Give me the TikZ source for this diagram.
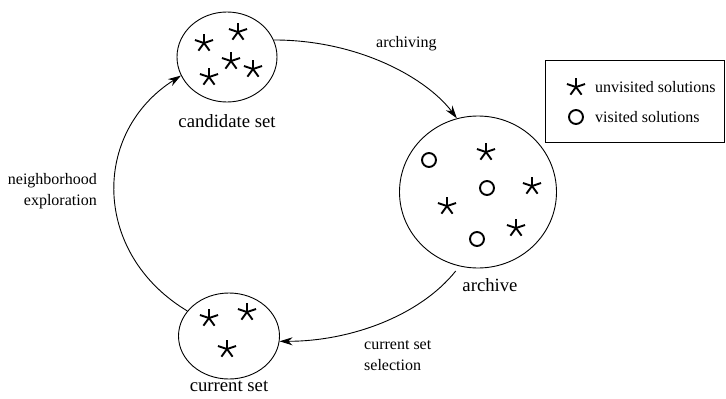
\documentclass[tikz,border=0pt]{standalone}
\usepackage{fontspec}
\setmainfont{Liberation Serif}
\usetikzlibrary{arrows.meta,shapes.geometric}
\tikzset{
  setnode/.style={draw, ellipse, line width=0.9pt, inner sep=0pt},
  setlabel/.style={font=\fontsize{18.7}{22}\selectfont, inner sep=0pt},
  edgelabel/.style={font=\fontsize{16}{21}\selectfont, inner sep=0pt},
  flow/.style={line width=0.9pt, -{Stealth[length=13pt,width=8pt]}},
  pics/astk/.style={code={
    \foreach \a in {270,342,198,126,54}
      \draw[line width=1.9pt] (0,0) -- (\a:9.5);
  }},
  pics/ocirc/.style={code={
    \draw[line width=1.9pt] (0,0) circle (7);
  }}
}
\begin{document}
\begin{tikzpicture}[x=1pt,y=-1pt]
\useasboundingbox (0,0) rectangle (726,399);

% set nodes
\node[setnode, minimum width=100pt, minimum height=90pt] (cand) at (227,57) {};
\node[setnode, minimum width=157pt, minimum height=152pt] (arch) at (478,192) {};
\node[setnode, minimum width=101pt, minimum height=86pt] (cur) at (229,336) {};

% labels
\node[setlabel] (candl) at (227,121) {candidate set};
\node[setlabel] (archl) at (490,285) {archive};
\node[setlabel] (curl) at (229,386) {current set};

% stars and circles
\pic at (204,43) {astk};
\pic at (238,32) {astk};
\pic at (231,61) {astk};
\pic at (253,69) {astk};
\pic at (209,77) {astk};

\pic at (486,152) {astk};
\pic at (532,186) {astk};
\pic at (447,206) {astk};
\pic at (516,228) {astk};
\pic at (429,160) {ocirc};
\pic at (487,188) {ocirc};
\pic at (477,239) {ocirc};

\pic at (209,318) {astk};
\pic at (247,312) {astk};
\pic at (227,349) {astk};

% connectors
\draw[flow] (cand.20) .. controls +(85,0) and +(-30,-40) .. (arch.106);
\draw[flow, shorten <=6pt] (arch.256) .. controls +(-40,50) and +(70,0) .. (cur.-6);
\draw[flow] (cur.149) .. controls +(-95,-57) and +(-90,57) .. (cand.202);

% edge labels
\node[edgelabel, anchor=west] (lab1) at (376,44) {archiving};
\node[edgelabel, align=left, anchor=north west] (lab2) at (364,340) {current set\\selection};
\node[edgelabel, align=right, anchor=east] (lab3) at (97,191) {neighborhood\\exploration};

% legend
\node[draw, line width=0.8pt, minimum width=179pt, minimum height=82pt, inner sep=0pt] (leg) at (634.5,101) {};
\pic at (576,87) {astk};
\pic at (576,117) {ocirc};
\node[edgelabel, anchor=west] (l1) at (595,87) {unvisited solutions};
\node[edgelabel, anchor=west] (l2) at (595,117) {visited solutions};
\end{tikzpicture}
\end{document}
